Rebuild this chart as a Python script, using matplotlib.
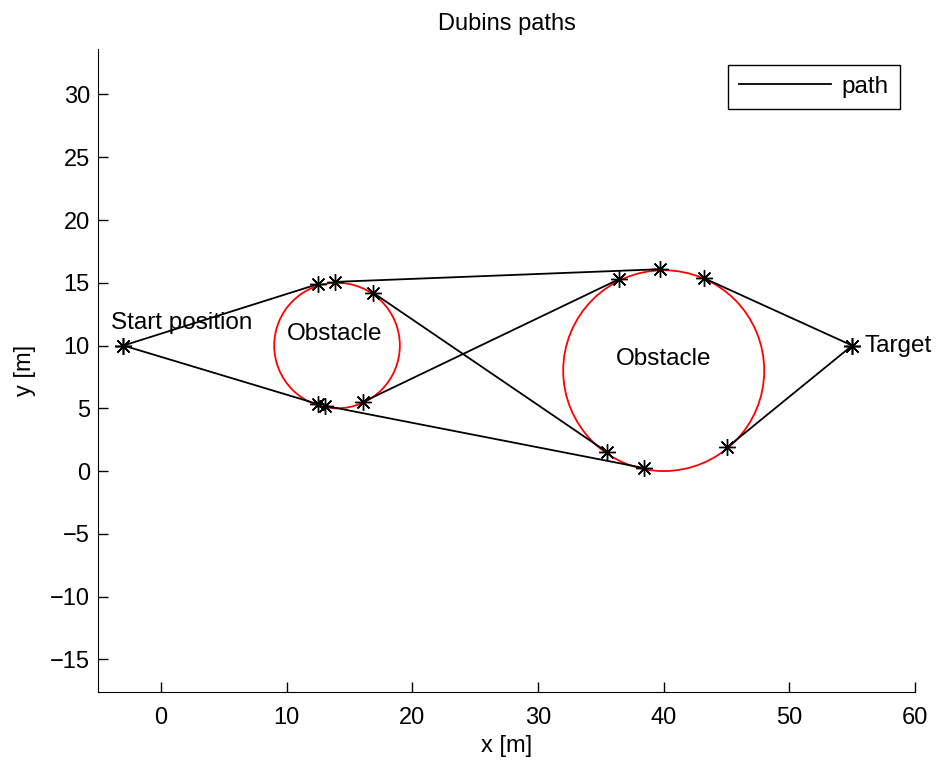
import numpy as np
import matplotlib
matplotlib.use("Agg")
import matplotlib.pyplot as plt
from matplotlib.patches import Circle

plt.rcParams["font.family"] = ["Liberation Sans", "DejaVu Sans"]
plt.rcParams["font.size"] = 17

# straight path segments: (x0, y0) -> (x1, y1)
seg_x0 = [-3.0, 13.8, 43.2, -3.0, 13.05, 45.05, 16.85, 16.1]
seg_y0 = [10.0, 15.07, 15.37, 10.0, 5.2, 1.89, 14.22, 5.52]
seg_x1 = [12.5, 39.7, 55.0, 12.5, 38.45, 55.0, 35.45, 36.45]
seg_y1 = [14.9, 16.08, 10.0, 5.33, 0.24, 10.0, 1.54, 15.29]

# obstacles
obs_x = [14.0, 40.0]
obs_y = [10.0, 8.0]
obs_r = [5.0, 8.0]

# text labels
label_txt = ["Start position", "Obstacle", "Obstacle", "Target"]
label_x = [-4.0, 10.0, 36.2, 56.0]
label_y = [11.8, 10.9, 8.9, 10.0]

fig = plt.figure(figsize=(9.4, 7.63), dpi=100)
ax = fig.add_axes([98.3 / 940, 71 / 763, (915 - 98.3) / 940, (692 - 49.3) / 763])

for cx, cy, r in zip(obs_x, obs_y, obs_r):
    ax.add_patch(Circle((cx, cy), r, fill=False, edgecolor="red", lw=1.3, zorder=2))

star = (8, 2, 0)
for i in range(len(seg_x0)):
    ax.plot([seg_x0[i], seg_x1[i]], [seg_y0[i], seg_y1[i]], color="black", lw=1.3,
            label="path" if i == 0 else None, zorder=3)
    ax.plot([seg_x0[i], seg_x1[i]], [seg_y0[i], seg_y1[i]], ls="none", marker=star,
            ms=12, mew=1.0, color="black", zorder=4)

for t, x, y in zip(label_txt, label_x, label_y):
    ax.text(x, y, t, ha="left", va="center", fontsize=17.5)

ax.set_xlim(-5, 60)
ax.set_ylim(-17.6, 33.6)
ax.set_xticks(np.arange(0, 61, 10))
ax.set_yticks(np.arange(-15, 31, 5))
ax.set_yticklabels([("\u2212" if v < 0 else "") + str(abs(v)) for v in range(-15, 31, 5)])
ax.spines["top"].set_visible(False)
ax.spines["right"].set_visible(False)
ax.tick_params(direction="in", length=7, width=1, labelsize=17)
ax.tick_params(axis="x", pad=11)
ax.tick_params(axis="y", pad=6)
ax.set_xlabel("x [m]", fontsize=17, labelpad=4)
ax.set_ylabel("y [m]", fontsize=17, labelpad=10)
ax.set_title("Dubins paths", fontsize=17, pad=14)

leg = ax.legend(loc="upper right", bbox_to_anchor=(0.9816, 0.9756), borderaxespad=0,
                fancybox=False, edgecolor="black", framealpha=1, handlelength=3.8,
                fontsize=17.5, borderpad=0.45, handletextpad=0.45)
leg.get_frame().set_linewidth(1.0)

fig.savefig("out.png", dpi=100)
